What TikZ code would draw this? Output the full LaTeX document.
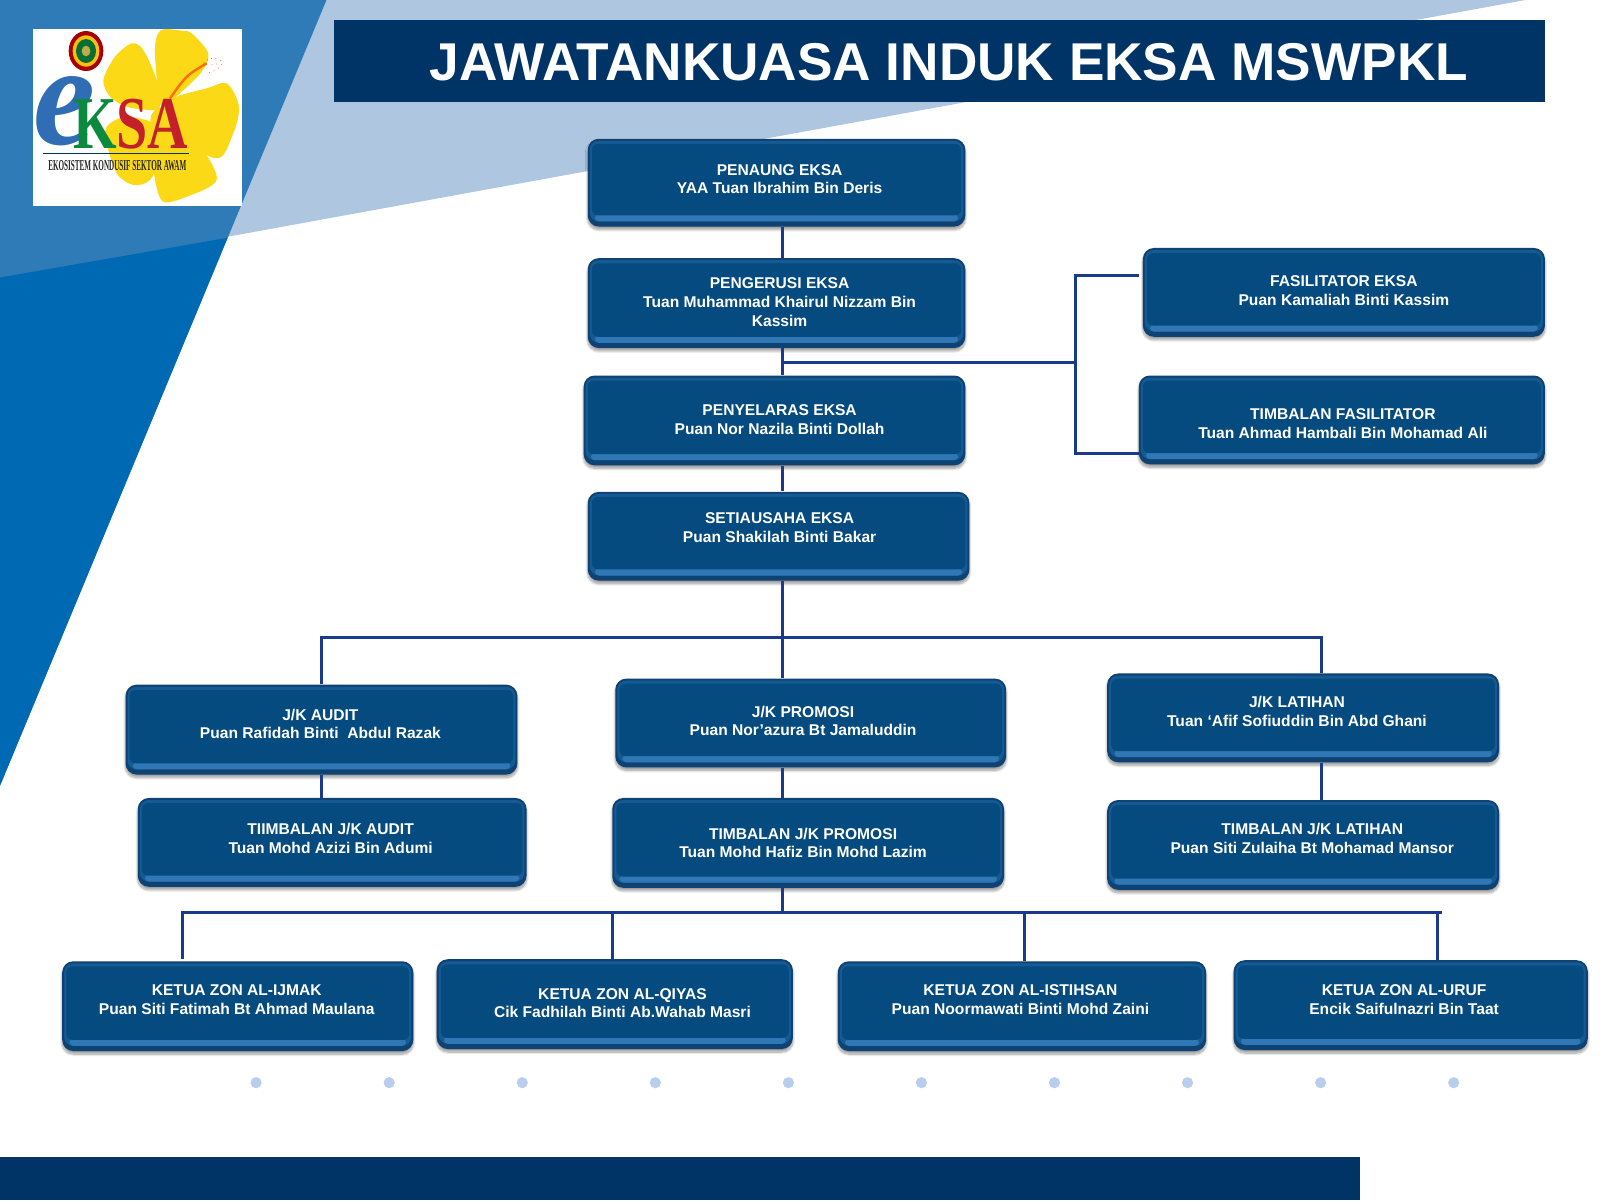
\documentclass[tikz,border=0pt]{standalone}
\usepackage{fontspec}
\usepackage{graphicx}
\setmainfont{Liberation Sans}
\newfontfamily\logofont{Liberation Serif}
\usetikzlibrary{calc, shadows.blur}

\definecolor{navybar}{HTML}{003366}
\definecolor{midblue}{HTML}{2E7BB8}
\definecolor{brightblue}{HTML}{0069B4}
\definecolor{paleblue}{HTML}{AEC6DF}
\definecolor{dotblue}{HTML}{B9CDEC}
\definecolor{boxface}{HTML}{054B80}
\definecolor{boxedge}{HTML}{0E4273}
\definecolor{boxside}{HTML}{165A94}
\definecolor{boxband}{HTML}{2F78B5}
\definecolor{linkblue}{HTML}{1A3A8C}
\definecolor{petal}{HTML}{FBD916}
\definecolor{logoblue}{HTML}{2F6DB5}
\definecolor{logogreen}{HTML}{0B8A3E}
\definecolor{logored}{HTML}{C4202A}

\tikzset{
    orgbox/.style 2 args={
        fill=boxedge, rounded corners=5.5pt,
        minimum width=#1*0.5102pt, minimum height=#2*0.5102pt, inner sep=0pt,
        blur shadow={shadow xshift=0pt, shadow yshift=-1.5pt, shadow blur steps=12, shadow blur radius=1.2pt, shadow opacity=40},
        path picture={
            \fill[boxside, rounded corners=4.5pt]
                ($(path picture bounding box.north west)+(2,2)$) rectangle
                ($(path picture bounding box.south east)+(-2,-5)$);
            \fill[boxband, rounded corners=2pt]
                ($(path picture bounding box.south west)+(7,-12)$) rectangle
                ($(path picture bounding box.south east)+(-7,-5)$);
            \fill[boxface, rounded corners=3pt]
                ($(path picture bounding box.north west)+(4,5)$) rectangle
                ($(path picture bounding box.south east)+(-4,-11)$);
        }
    },
    boxtext/.style={text=white, font=\fontsize{7.8}{9.4}\selectfont\bfseries, align=center, inner sep=0pt},
    link/.style={draw=linkblue, line width=1.5pt}
}

\begin{document}
\begin{tikzpicture}[x=0.5102pt, y=-0.5102pt]
    \useasboundingbox (0,0) rectangle (1568,1176);

    % Background wedges
    \fill[paleblue] (320,0) -- (1495,0) -- (223,232) -- cycle;
    \fill[midblue] (0,0) -- (320,0) -- (0,770) -- cycle;
    \fill[brightblue] (0,272) -- (223,233) -- (0,770) -- cycle;

    % Title and footer bars
    \fill[navybar] (0,1134) rectangle (1333,1176);
    \fill[navybar] (327,20) rectangle (1514,100);
    \node[text=white, font=\fontsize{26.6}{30}\selectfont\bfseries, inner sep=0pt] (title) at (930,61) {JAWATANKUASA INDUK EKSA MSWPKL};

    % Logo
    \fill[white] (32,28) rectangle (237,202);
    \begin{scope}[scale=0.3267]
        \fill[petal] plot[smooth cycle] coordinates {(480,310) (465,170) (470,110) (490,88) (545,92) (575,100) (625,160) (605,215) (540,280) (500,310)};
        \fill[petal] plot[smooth cycle] coordinates {(480,320) (470,240) (430,150) (395,130) (345,170) (310,240) (330,290) (380,320) (450,330)};
        \fill[petal] plot[smooth cycle] coordinates {(510,300) (620,265) (680,250) (715,310) (710,370) (670,465) (630,470) (570,430) (510,370)};
        \fill[petal] plot[smooth cycle] coordinates {(500,380) (600,440) (650,540) (560,590) (490,605) (465,540) (460,440)};
        \fill[petal] plot[smooth cycle] coordinates {(480,380) (480,470) (450,540) (400,555) (350,520) (320,430) (320,380) (380,350)};
        \fill[petal] (490,360) circle(20pt);
        \draw[orange!85!red, line width=1.2pt] (510,295) .. controls (560,225) .. (620,190);
        \foreach \dx/\dy in {612/188, 622/180, 634/176, 648/176, 662/182, 665/194, 655/204, 642/212, 628/218, 618/204, 636/194, 650/192}
            \fill[red!70!black] (\dx,\dy) circle(0.6pt);
        % crest
        \fill[red!65!black] (258,153) ellipse (52 and 60);
        \fill[petal!70!orange] (258,153) ellipse (40 and 47);
        \fill[logogreen!80!black] (258,153) ellipse (30 and 36);
        \fill[petal!50!gray] (258,153) ellipse (13 and 16);
        % letters
        \node[text=logoblue, inner sep=0pt] (logoe) at (193,333) {\resizebox{31pt}{34pt}{\logofont\bfseries\itshape e}};
        \node[inner sep=0pt] (logoksa) at (392,371) {\resizebox{57.6pt}{24.7pt}{\logofont\bfseries\textcolor{logogreen}{K}\textcolor{logored}{SA}}};
        \draw[navybar, line width=0.8pt] (128,461) -- (567,461);
        \node[text=black!85, inner sep=0pt] (logotag) at (352,496) {\resizebox{69pt}{5pt}{\logofont\bfseries EKOSISTEM KONDUSIF SEKTOR AWAM}};
    \end{scope}

    % Boxes
    \node[orgbox={370}{86}] (penaung) at (761,179) {};
    \node[orgbox={370}{88}] (pengerusi) at (761,297) {};
    \node[orgbox={374}{88}] (penyelaras) at (759,412) {};
    \node[orgbox={374}{87}] (setiausaha) at (763,525.5) {};
    \node[orgbox={394}{87}] (fasilitator) at (1317,286.5) {};
    \node[orgbox={398}{87}] (timfasilitator) at (1315,411.5) {};
    \node[orgbox={384}{88}] (audit) at (315,715) {};
    \node[orgbox={383}{87}] (promosi) at (794.5,708.5) {};
    \node[orgbox={384}{87}] (latihan) at (1277,703.5) {};
    \node[orgbox={381}{87}] (timaudit) at (325.5,825.5) {};
    \node[orgbox={384}{88}] (timpromosi) at (792,826) {};
    \node[orgbox={384}{88}] (timlatihan) at (1277,828) {};
    \node[orgbox={344}{88}] (ijmak) at (233,986) {};
    \node[orgbox={349}{88}] (qiyas) at (602.5,984) {};
    \node[orgbox={361}{88}] (istihsan) at (1001.5,986) {};
    \node[orgbox={347}{88}] (uruf) at (1382.5,985) {};

    % Box texts
    \node[boxtext] (penaungtext) at (764,175.5) {PENAUNG EKSA\\YAA Tuan Ibrahim Bin Deris};
    \node[boxtext] (pengerusitext) at (764,296) {PENGERUSI EKSA\\Tuan Muhammad Khairul Nizzam Bin\\Kassim};
    \node[boxtext] (penyelarastext) at (764,411.5) {PENYELARAS EKSA\\Puan Nor Nazila Binti Dollah};
    \node[boxtext] (setiausahatext) at (764,517) {SETIAUSAHA EKSA\\Puan Shakilah Binti Bakar};
    \node[boxtext] (fasilitatortext) at (1317,285) {FASILITATOR EKSA\\Puan Kamaliah Binti Kassim};
    \node[boxtext] (timfasilitatortext) at (1316,415.5) {TIMBALAN FASILITATOR\\Tuan Ahmad Hambali Bin Mohamad Ali};
    \node[boxtext] (audittext) at (314,709.5) {J/K AUDIT\\Puan Rafidah Binti~~Abdul Razak};
    \node[boxtext] (promositext) at (787,706.5) {J/K PROMOSI\\Puan Nor’azura Bt Jamaluddin};
    \node[boxtext] (latihantext) at (1271,697.5) {J/K LATIHAN\\Tuan ‘Afif Sofiuddin Bin Abd Ghani};
    \node[boxtext] (timaudittext) at (324,822) {TIIMBALAN J/K AUDIT\\Tuan Mohd Azizi Bin Adumi};
    \node[boxtext] (timpromositext) at (787,826) {TIMBALAN J/K PROMOSI\\Tuan Mohd Hafiz Bin Mohd Lazim};
    \node[boxtext] (timlatihantext) at (1286,822) {TIMBALAN J/K LATIHAN\\Puan Siti Zulaiha Bt Mohamad Mansor};
    \node[boxtext] (ijmaktext) at (232,980) {KETUA ZON AL-IJMAK\\Puan Siti Fatimah Bt Ahmad Maulana};
    \node[boxtext] (qiyastext) at (610,983) {KETUA ZON AL-QIYAS\\Cik Fadhilah Binti Ab.Wahab Masri};
    \node[boxtext] (istihsantext) at (1000,980) {KETUA ZON AL-ISTIHSAN\\Puan Noormawati Binti Mohd Zaini};
    \node[boxtext] (uruftext) at (1376,980) {KETUA ZON AL-URUF\\Encik Saifulnazri Bin Taat};

    % Junction points of the connectors
    \coordinate (trunk) at (767,625);
    \coordinate (busleft) at (315,625);
    \coordinate (busright) at (1295,625);
    \coordinate (zonbus) at (767,894);
    \coordinate (sidejoin) at (767,355);
    \coordinate (bracket) at (1054,355);
    \coordinate (fasilend) at (1116,270);
    \coordinate (timfasilend) at (1116,444);

    % Main column
    \draw[link] (trunk |- penaung.south) -- (trunk |- pengerusi.north);
    \draw[link] (trunk |- pengerusi.south) -- (trunk |- penyelaras.north);
    \draw[link] (trunk |- penyelaras.south) -- (trunk |- setiausaha.north);
    \draw[link] (trunk |- setiausaha.south) -- (trunk |- promosi.north);

    % Side bracket to the facilitators
    \draw[link] (sidejoin) -- (bracket);
    \draw[link] (fasilend) -- (bracket |- fasilend) -- (bracket |- timfasilend) -- (timfasilend);

    % Committees
    \draw[link] (busleft |- audit.north) -- (busleft) -- (busright) -- (busright |- latihan.north);
    \draw[link] (busleft |- audit.south) -- (busleft |- timaudit.north);
    \draw[link] (trunk |- promosi.south) -- (trunk |- timpromosi.north);
    \draw[link] (busright |- latihan.south) -- (busright |- timlatihan.north);

    % Zones
    \draw[link] (trunk |- timpromosi.south) -- (zonbus);
    \draw[link] (179,940) -- (179,894) -- (1413,894);
    \draw[link] (600,894) -- (600,940);
    \draw[link] (1004,894) -- (1004,942);
    \draw[link] (1409,894) -- (1409,941);

    % Dots
    \foreach \i in {0,...,9}
        \fill[dotblue] (251+130.4*\i,1061) circle(2.8pt);
\end{tikzpicture}
\end{document}
